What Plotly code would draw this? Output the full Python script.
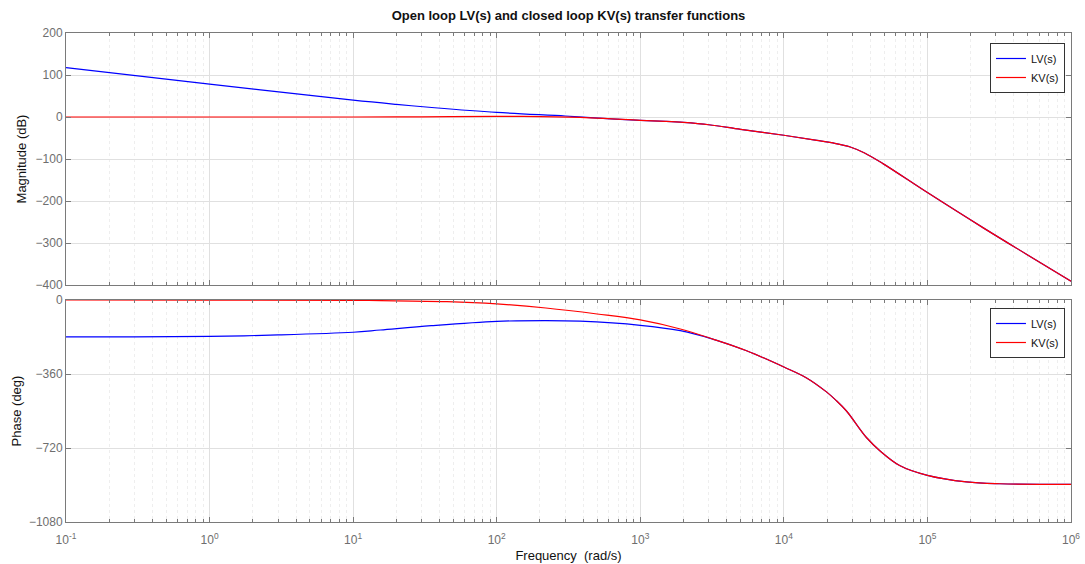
import plotly.graph_objects as go

# Frequency grid (rad/s) and responses of the open loop LV(s) and closed loop KV(s)
freq_mag_lv = [0.1, 1, 10, 20, 37, 100, 300, 450, 1000, 1500, 2000, 3000, 5000,
               1e4, 1.7e4, 2.2e4, 2.9e4, 3.65e4, 4.9e4, 1e5, 2.45e5, 1e6]
mag_lv = [117.5, 78.5, 40, 30, 22, 11, 2.4, -1.5, -8, -10.5, -13, -18.5, -29.5,
          -43.5, -55.5, -61.8, -71.3, -85.6, -111, -180, -264, -391]

freq_mag_kv = [0.1, 1, 10, 30, 100, 200, 450, 1000, 1500, 2000, 3000, 5000,
               1e4, 1.7e4, 2.2e4, 2.9e4, 3.65e4, 4.9e4, 1e5, 2.45e5, 1e6]
mag_kv = [0, 0, 0, 0.3, 1.5, 0.8, -2, -8, -10.5, -13, -18.5, -29.5,
          -43.5, -55.5, -61.8, -71.3, -85.6, -111, -180, -264, -391]

freq_ph_lv = [0.1, 0.3, 1, 3, 10, 15.5, 35, 100, 220, 380, 1000, 1900, 3200,
              5500, 1e4, 1.44e4, 1.98e4, 2.3e4, 2.73e4, 3.76e4, 4.66e4, 6.4e4,
              1e5, 1.87e5, 3.2e5, 1e6]
ph_lv = [-179.5, -179, -177, -170, -157, -146, -125, -104, -100, -103, -123,
         -149, -190, -247, -326, -379, -447, -487, -540, -669, -733, -805,
         -853, -885, -894, -897]

freq_ph_kv = [0.1, 1, 10, 15.5, 45, 100, 220, 500, 1000, 1900, 3200, 5500,
              1e4, 1.44e4, 1.98e4, 2.3e4, 2.73e4, 3.76e4, 4.66e4, 6.4e4, 1e5,
              1.87e5, 3.2e5, 1e6]
ph_kv = [0, -0.5, -1.5, -3, -8, -19, -39, -68, -97, -141, -190, -247, -326,
         -379, -447, -487, -540, -669, -733, -805, -853, -885, -894, -897]

x_tick_vals = [0.1, 1, 10, 100, 1e3, 1e4, 1e5, 1e6]
x_tick_text = ["10<sup>-1</sup>", "10<sup>0</sup>", "10<sup>1</sup>", "10<sup>2</sup>",
               "10<sup>3</sup>", "10<sup>4</sup>", "10<sup>5</sup>", "10<sup>6</sup>"]
mag_ticks = [-400, -300, -200, -100, 0, 100, 200]
phase_ticks = [-1080, -720, -360, 0]

BLUE = "rgb(0,0,255)"
RED = "rgb(255,0,0)"
FONT = "Liberation Sans, Arial, Helvetica, sans-serif"
AXIS_COL = "#7a7a7a"
TICK_FONT = dict(family=FONT, size=12, color="#6e6e6e")

# minor tick positions 2..9 within each decade
minor_vals = [m * 10.0 ** e for e in range(-1, 6) for m in range(2, 10)]

fig = go.Figure()
line_w = 1.2
smooth = 1.0
fig.add_trace(go.Scatter(x=freq_mag_lv, y=mag_lv, name="LV(s)", mode="lines",
                         line=dict(color=BLUE, width=line_w, shape="spline", smoothing=smooth),
                         xaxis="x", yaxis="y", legend="legend"))
fig.add_trace(go.Scatter(x=freq_mag_kv, y=mag_kv, name="KV(s)", mode="lines",
                         line=dict(color=RED, width=line_w, shape="spline", smoothing=smooth),
                         xaxis="x", yaxis="y", legend="legend"))
fig.add_trace(go.Scatter(x=freq_ph_lv, y=ph_lv, name="LV(s)", mode="lines",
                         line=dict(color=BLUE, width=line_w, shape="spline", smoothing=smooth),
                         xaxis="x2", yaxis="y2", legend="legend2"))
fig.add_trace(go.Scatter(x=freq_ph_kv, y=ph_kv, name="KV(s)", mode="lines",
                         line=dict(color=RED, width=line_w, shape="spline", smoothing=smooth),
                         xaxis="x2", yaxis="y2", legend="legend2"))

def x_axis(show_labels, anchor):
    return dict(
        type="log", range=[-1, 6], anchor=anchor, automargin=False,
        tickmode="array", tickvals=x_tick_vals,
        ticktext=x_tick_text if show_labels else [""] * len(x_tick_vals),
        showticklabels=show_labels, tickfont=TICK_FONT, ticklabelstandoff=7,
        ticks="inside", ticklen=5, tickcolor=AXIS_COL,
        showline=True, linecolor=AXIS_COL, linewidth=1, mirror="ticks",
        showgrid=True, gridcolor="#e0e0e0", gridwidth=1,
        minor=dict(tickmode="array", tickvals=minor_vals, ticks="inside",
                   ticklen=3, tickcolor=AXIS_COL, showgrid=True,
                   gridcolor="#eeeeee", griddash="dot", gridwidth=1),
        zeroline=False,
    )

# plot area: 66..1071 px horizontally, 33..522 px vertically
fig.update_layout(
    width=1085, height=564,
    margin=dict(l=66, r=14, t=33, b=42),
    paper_bgcolor="white", plot_bgcolor="white",
    font=dict(family=FONT, color="#222"),
    title=dict(text="<b>Open loop LV(s) and closed loop KV(s) transfer functions</b>",
               x=0.5, xref="paper", xanchor="center", y=1 - 15 / 564, yanchor="middle",
               font=dict(family=FONT, size=13, color="#111")),
    xaxis=dict(**x_axis(False, "y"), domain=[0, 1]),
    xaxis2=dict(**x_axis(True, "y2"), domain=[0, 1],
                title=dict(text="Frequency  (rad/s)", standoff=4,
                           font=dict(family=FONT, size=13, color="#111"))),
    yaxis=dict(domain=[(522 - 285) / 489, 1], anchor="x", range=[-400, 200],
               automargin=False,
               tickmode="array", tickvals=mag_ticks, tickfont=TICK_FONT,
               ticks="inside", ticklen=5, tickcolor=AXIS_COL,
               showline=True, linecolor=AXIS_COL, mirror="ticks",
               showgrid=True, gridcolor="#e0e0e0", zeroline=False,
               title=dict(text="Magnitude (dB)", standoff=6,
                          font=dict(family=FONT, size=13, color="#111"))),
    yaxis2=dict(domain=[0, (522 - 300) / 489], anchor="x2", range=[-1080, 0],
                automargin=False,
                tickmode="array", tickvals=phase_ticks, tickfont=TICK_FONT,
                ticks="inside", ticklen=5, tickcolor=AXIS_COL,
                showline=True, linecolor=AXIS_COL, mirror="ticks",
                showgrid=True, gridcolor="#e0e0e0", zeroline=False,
                title=dict(text="Phase (deg)", standoff=4,
                           font=dict(family=FONT, size=13, color="#111"))),
    legend=dict(x=0.994, y=(522 - 43) / 489, xanchor="right", yanchor="top",
                bgcolor="white", bordercolor="#333", borderwidth=1,
                font=dict(family=FONT, size=11, color="#111"),
                tracegroupgap=0, itemwidth=30),
    legend2=dict(x=0.994, y=(522 - 308) / 489, xanchor="right", yanchor="top",
                 bgcolor="white", bordercolor="#333", borderwidth=1,
                 font=dict(family=FONT, size=11, color="#111"),
                 tracegroupgap=0, itemwidth=30),
    showlegend=True,
)

fig.write_html("out.html")
